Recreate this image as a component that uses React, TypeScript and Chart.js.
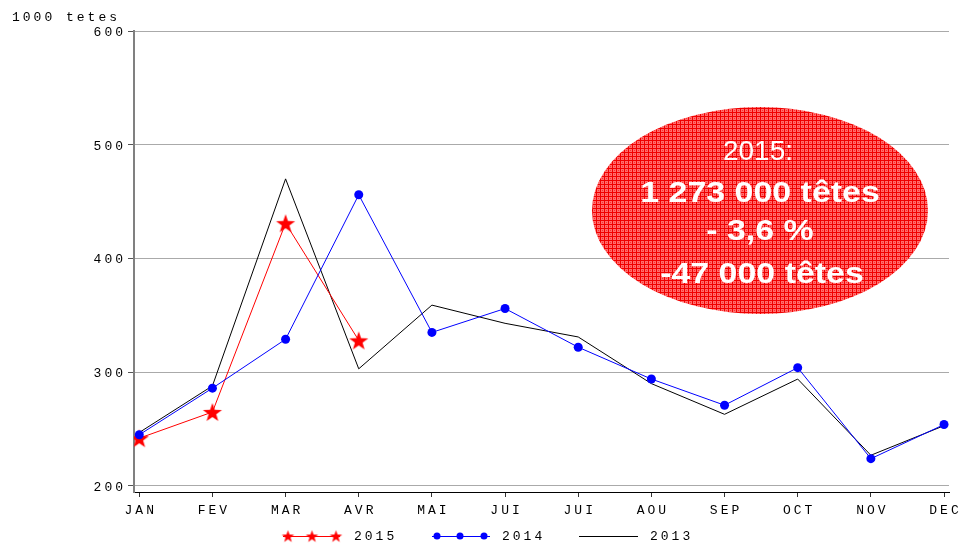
import React, { useEffect, useRef } from "react";
import { Chart, registerables } from "chart.js";

Chart.register(...registerables);

// ---- data ----
const months = ["JAN", "FEV", "MAR", "AVR", "MAI", "JUI", "JUI", "AOU", "SEP", "OCT", "NOV", "DEC"];
const values2015 = [242, 265, 431, 328];
const values2014 = [245, 286, 329, 456, 335, 356, 322, 294, 271, 304, 224, 254];
const values2013 = [247, 288, 470, 303, 359, 343, 331, 290, 263, 294, 227, 253];
const yTicks = [200, 300, 400, 500, 600];
const axisTitle = "1000 tetes";
const legendLabels = ["2015", "2014", "2013"];
const calloutLines = ["2015:", "1 273 000 têtes", "- 3,6 %", "-47 000 têtes"];

const MONO = '"Liberation Mono", "DejaVu Sans Mono", monospace';
const SANS = '"Liberation Sans", Arial, sans-serif';
const SPACING = "3px";

function makeStar(outer: number, inner: number, color: string): HTMLCanvasElement {
  const size = Math.ceil(outer * 2 + 2);
  const c = document.createElement("canvas");
  c.width = size;
  c.height = size;
  const g = c.getContext("2d")!;
  const cx = size / 2;
  const cy = size / 2 + outer * 0.1;
  g.beginPath();
  for (let i = 0; i < 10; i++) {
    const r = i % 2 === 0 ? outer : inner;
    const a = -Math.PI / 2 + (i * Math.PI) / 5;
    const x = cx + r * Math.cos(a);
    const y = cy + r * Math.sin(a);
    if (i === 0) g.moveTo(x, y);
    else g.lineTo(x, y);
  }
  g.closePath();
  g.fillStyle = color;
  g.fill();
  return c;
}

function makePattern(ctx: CanvasRenderingContext2D) {
  const p = document.createElement("canvas");
  p.width = 4;
  p.height = 4;
  const g = p.getContext("2d")!;
  g.fillStyle = "#ff6c6c";
  g.fillRect(0, 0, 4, 4);
  g.fillStyle = "#f00000";
  g.fillRect(0, 0, 4, 1);
  g.fillRect(0, 0, 1, 4);
  g.fillStyle = "#ff3030";
  g.fillRect(2, 2, 1, 1);
  return ctx.createPattern(p, "repeat");
}

export default function App() {
  const ref = useRef<HTMLCanvasElement>(null);

  useEffect(() => {
    document.body.style.margin = "0";
    const canvas = ref.current!;
    const bigStar = makeStar(10, 4, "#ff0000");
    const smallStar = makeStar(6.5, 2.6, "#ff0000");
    const pattern = makePattern(canvas.getContext("2d")!);

    const setSpacing = (c: any) => {
      (c.ctx as any).letterSpacing = SPACING;
    };

    const spacingPlugin = {
      id: "spacing",
      beforeUpdate: setSpacing,
      beforeLayout: setSpacing,
      beforeDraw: setSpacing,
    };

    const decorPlugin = {
      id: "decor",
      afterDraw(c: any) {
        const ctx: CanvasRenderingContext2D = c.ctx;
        ctx.save();
        (ctx as any).letterSpacing = SPACING;
        ctx.fillStyle = "#000";
        ctx.font = `13px ${MONO}`;
        ctx.textAlign = "left";
        ctx.textBaseline = "alphabetic";
        ctx.fillText(axisTitle, 12, 21);

        // legend
        const ly = 536;
        ctx.textBaseline = "middle";
        // 2015
        ctx.strokeStyle = "#ff0000";
        ctx.lineWidth = 1;
        ctx.beginPath();
        ctx.moveTo(283, ly + 0.5);
        ctx.lineTo(340, ly + 0.5);
        ctx.stroke();
        [288, 312, 336].forEach((x) =>
          ctx.drawImage(smallStar, x - smallStar.width / 2, ly - smallStar.height / 2)
        );
        ctx.fillStyle = "#000";
        ctx.fillText(legendLabels[0], 354, ly + 1);
        // 2014
        ctx.strokeStyle = "#0000ff";
        ctx.beginPath();
        ctx.moveTo(432, ly + 0.5);
        ctx.lineTo(490, ly + 0.5);
        ctx.stroke();
        ctx.fillStyle = "#0000ff";
        [437, 460, 484].forEach((x) => {
          ctx.beginPath();
          ctx.arc(x, ly, 3.5, 0, Math.PI * 2);
          ctx.fill();
        });
        ctx.fillStyle = "#000";
        ctx.fillText(legendLabels[1], 502, ly + 1);
        // 2013
        ctx.strokeStyle = "#000";
        ctx.beginPath();
        ctx.moveTo(579, ly + 0.5);
        ctx.lineTo(638, ly + 0.5);
        ctx.stroke();
        ctx.fillText(legendLabels[2], 650, ly + 1);

        // callout ellipse
        ctx.beginPath();
        ctx.ellipse(760, 210.5, 168, 103.5, 0, 0, Math.PI * 2);
        ctx.fillStyle = pattern || "#f83c3c";
        ctx.fill();

        (ctx as any).letterSpacing = "0px";
        ctx.fillStyle = "#ffffff";
        ctx.textAlign = "center";
        ctx.textBaseline = "alphabetic";
        ctx.font = `28px ${SANS}`;
        ctx.fillText(calloutLines[0], 758, 160);
        const bold = [
          [calloutLines[1], 760, 201.5],
          [calloutLines[2], 760, 240],
          [calloutLines[3], 762, 283],
        ] as [string, number, number][];
        ctx.font = `bold 29px ${SANS}`;
        bold.forEach(([t, x, y]) => {
          ctx.save();
          ctx.translate(x, y);
          ctx.scale(1.17, 1);
          ctx.fillText(t, 0, 0);
          ctx.restore();
        });
        ctx.restore();
      },
    };

    const tickFont = { family: MONO, size: 13 };

    const chart = new Chart(canvas, {
      type: "line",
      data: {
        datasets: [
          {
            label: legendLabels[1],
            data: values2014.map((v, i) => ({ x: i, y: v })),
            borderColor: "#0000ff",
            backgroundColor: "#0000ff",
            borderWidth: 1,
            pointStyle: "circle",
            pointRadius: 4.5,
            pointBorderWidth: 0,
            pointBackgroundColor: "#0000ff",
            tension: 0,
            order: 0,
          },
          {
            label: legendLabels[0],
            data: values2015.map((v, i) => ({ x: i, y: v })),
            borderColor: "#ff0000",
            backgroundColor: "#ff0000",
            borderWidth: 1,
            pointStyle: bigStar as any,
            pointRadius: 10,
            tension: 0,
            order: 1,
          },
          {
            label: legendLabels[2],
            data: values2013.map((v, i) => ({ x: i, y: v })),
            borderColor: "#000000",
            backgroundColor: "#000000",
            borderWidth: 1,
            pointRadius: 0,
            tension: 0,
            order: 2,
          },
        ],
      },
      options: {
        animation: false,
        responsive: false,
        devicePixelRatio: 1,
        events: [],
        layout: { padding: { top: 31, right: 10, left: 0, bottom: 0 } },
        plugins: {
          legend: { display: false },
          tooltip: { enabled: false },
          title: { display: false },
        },
        scales: {
          x: {
            type: "linear",
            min: -0.072,
            max: 11.068,
            afterBuildTicks: (s: any) => {
              s.ticks = months.map((_, i) => ({ value: i }));
            },
            afterFit: (s: any) => {
              s.height = 52;
              s.paddingLeft = 0;
              s.paddingRight = 0;
            },
            grid: {
              display: true,
              drawOnChartArea: false,
              drawTicks: true,
              tickLength: 5,
              tickColor: "#333333",
              lineWidth: 1,
            },
            border: { display: true, color: "#000000", width: 1 },
            ticks: {
              autoSkip: false,
              maxRotation: 0,
              minRotation: 0,
              padding: 6,
              labelOffset: 1.5,
              color: "#000",
              font: tickFont,
              callback: (_v: any, i: number) => months[i] ?? "",
            },
          },
          y: {
            type: "linear",
            min: 194.7,
            max: 600,
            afterBuildTicks: (s: any) => {
              s.ticks = yTicks.map((v) => ({ value: v }));
            },
            afterFit: (s: any) => {
              s.width = 134;
              s.paddingTop = 0;
              s.paddingBottom = 0;
            },
            grid: {
              color: "#aaaaaa",
              lineWidth: 1,
              drawTicks: true,
              tickLength: 6,
              tickColor: "#555555",
            },
            border: { display: true, color: "#808080", width: 2 },
            ticks: {
              padding: 2,
              labelOffset: 1.5,
              color: "#000",
              font: tickFont,
              callback: (v: any) => String(v),
            },
          },
        },
      },
      plugins: [spacingPlugin, decorPlugin],
    } as any);

    return () => chart.destroy();
  }, []);

  return (
    <canvas
      ref={ref}
      width={960}
      height={544}
      style={{ display: "block", width: 960, height: 544 }}
    />
  );
}
